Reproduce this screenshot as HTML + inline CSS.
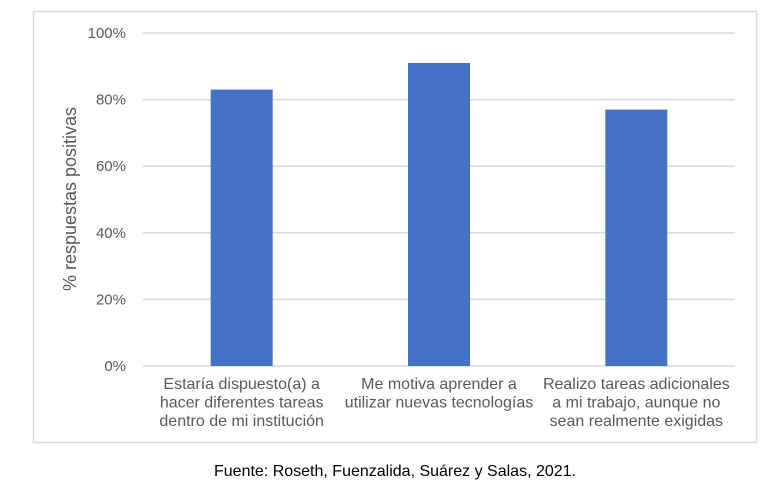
<!DOCTYPE html>
<html><head><meta charset="utf-8">
<style>
body{margin:0;background:#fff;width:781px;height:494px;overflow:hidden;font-family:"Liberation Sans",Arial,sans-serif}
</style></head>
<body>
<svg id="chart" width="781" height="494" xmlns="http://www.w3.org/2000/svg">
<rect x="33.5" y="11.5" width="723" height="431" fill="#fff" stroke="#d9d9d9" stroke-width="1.5"/>
<g id="grid"></g><g id="bars"></g><g id="ylabels"></g><g id="xlabels"></g>
<text x="0" y="0" transform="translate(76,199) rotate(-90)" text-anchor="middle" font-size="18" fill="#595959">% respuestas positivas</text>
<text x="395" y="476" text-anchor="middle" font-size="16" fill="#000">Fuente: Roseth, Fuenzalida, Suárez y Salas, 2021.</text>
</svg>
<script>
const categories=[["Estaría dispuesto(a) a","hacer diferentes tareas","dentro de mi institución"],["Me motiva aprender a","utilizar nuevas tecnologías"],["Realizo tareas adicionales","a mi trabajo, aunque no","sean realmente exigidas"]];
const values=[83,91,77];
const ticks=[0,20,40,60,80,100];
const tickLabels=["0%","20%","40%","60%","80%","100%"];
const NS="http://www.w3.org/2000/svg";
const x0=143,x1=735,y0=366,y1=33;
const band=(x1-x0)/categories.length;
const y=v=>y0-(v/100)*(y0-y1);
const xc=i=>x0+band*(i+0.5);
function mk(t,a,p){const e=document.createElementNS(NS,t);for(const k in a)e.setAttribute(k,a[k]);p.appendChild(e);return e;}
const g=document.getElementById('grid'),b=document.getElementById('bars'),yl=document.getElementById('ylabels'),xl=document.getElementById('xlabels');
ticks.forEach((t,i)=>{
 const l=mk('line',{x1:x0,x2:x1,y1:y(t),y2:y(t),stroke:'#d9d9d9','stroke-width':1.5},g);
 
 
 const tx=mk('text',{x:126,y:y(t)+5,'text-anchor':'end','font-size':15,fill:'#595959'},yl);
 tx.textContent=tickLabels[i];
 
 
});
values.forEach((v,i)=>{
 const r=mk('rect',{x:xc(i)-31,y:y(v),width:62,height:y0-y(v),fill:'#4472c4'},b);
 
 
 categories[i].forEach((line,j)=>{
  const tx=mk('text',{x:xc(i),y:389+j*18.5,'text-anchor':'middle','font-size':16,fill:'#595959'},xl);
  tx.textContent=line;
  
  
 });
});
</script>
</body></html>
